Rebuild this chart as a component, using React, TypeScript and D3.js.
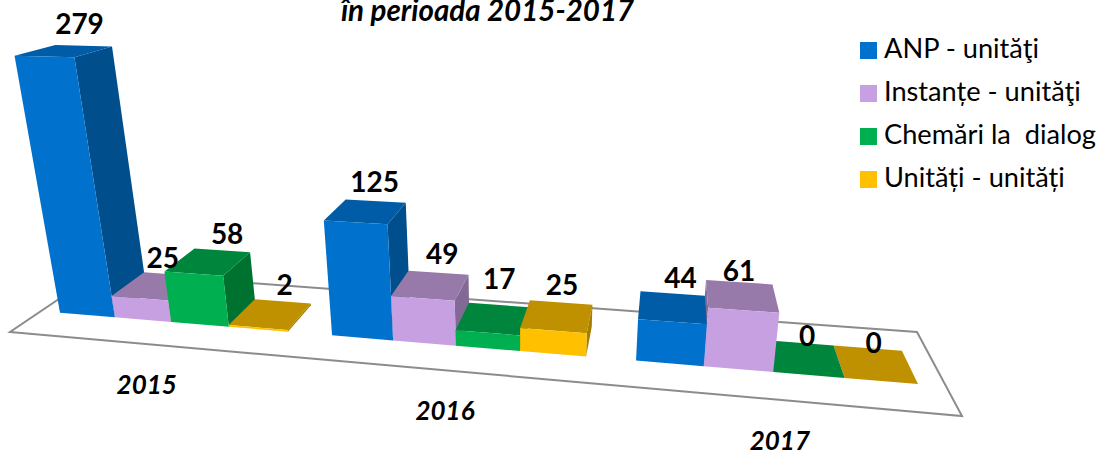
import React from "react";
import * as d3 from "d3";

const years = ["2015", "2016", "2017"];
const seriesNames = ["ANP - unităţi", "Instanțe - unităţi", "Chemări la  dialog", "Unități - unități"];
const anp = [279, 125, 44];
const instante = [25, 49, 61];
const chemari = [58, 17, 0];
const unitati = [2, 25, 0];
const seriesValues = [anp, instante, chemari, unitati];
const frontColors = ["#0072CE", "#C7A0E2", "#00B050", "#FFC000"];
const topColors = ["#005CA6", "#977AAA", "#00863C", "#BF9000"];
const sideColors = ["#004F8C", "#826A94", "#00722F", "#A67D00"];

const WIDTH = 1099;
const HEIGHT = 450;
// Floor quad of the perspective chart and the vanishing point of the vertical direction.
const FL = [10, 332], FR = [962, 416], BR = [917, 332], BL = [99, 272];
const VP = [515, 2885];
const V_FRONT = 0.315, V_BACK = 0.72, U_CAMERA = 0.713;
// Extent of each year's cluster across the floor (0..1).
const groupExtents: [number, number][] = [[0.0253, 0.3108], [0.3629, 0.6453], [0.6975, 0.974]];
// Hand offsets of the value labels from their bars, by series then year.
const labelNudgeX = [[-4, -1, 8], [-8, 4, 0], [5, 0, 7], [2, 1, 6]];
const labelNudgeY = [[-3, 0, 4], [3, 0, 8], [3, -7, 12], [3, 1, 14]];

const dx1 = FR[0] - BR[0], dx2 = BL[0] - BR[0], sx = FL[0] - FR[0] + BR[0] - BL[0];
const dy1 = FR[1] - BR[1], dy2 = BL[1] - BR[1], sy = FL[1] - FR[1] + BR[1] - BL[1];
const den = dx1 * dy2 - dx2 * dy1;
const g = (sx * dy2 - dx2 * sy) / den;
const h = (dx1 * sy - sx * dy1) / den;
const a = FR[0] - FL[0] + g * FR[0], b = BL[0] - FL[0] + h * BL[0], c = FL[0];
const d = FR[1] - FL[1] + g * FR[1], e = BL[1] - FL[1] + h * BL[1], f = FL[1];

const yScale = d3.scaleLinear().domain([0, 1]).range([0, -0.00034]);

function project(u: number, v: number, value: number): [number, number] {
  const s = yScale(value);
  const w = g * u + h * v + 1 + s;
  return [(a * u + b * v + c + s * VP[0]) / w, (d * u + e * v + f + s * VP[1]) / w];
}
const line = d3.line<[number, number]>().curve(d3.curveLinearClosed);

type Bar = { u0: number; u1: number; value: number; series: number; yi: number };
const bars: Bar[] = years.flatMap((_, yi) => {
  const uBar = d3.scaleBand<number>().domain([0, 1, 2, 3]).range(groupExtents[yi]);
  return seriesValues.map((vals, si) => {
    const u0 = uBar(si)!;
    return { u0, u1: u0 + uBar.bandwidth(), value: vals[yi], series: si, yi };
  });
});
const ordered = [...bars].sort(
  (p, q) => Math.abs((q.u0 + q.u1) / 2 - U_CAMERA) - Math.abs((p.u0 + p.u1) / 2 - U_CAMERA)
);

const latin = "Lato, sans-serif";

export default function App() {
  return (
    <svg width={WIDTH} height={HEIGHT} style={{ position: "absolute", left: 0, top: 0, background: "#fff" }}>
      <path
        d={line([project(0, 0, 0), project(1, 0, 0), project(1, 1, 0), project(0, 1, 0)])!}
        fill="#fff"
        stroke="#8C8C8C"
        strokeWidth={2}
      />
      {ordered.map((bar) => {
        const { u0, u1, value, series } = bar;
        return (
          <g key={`${bar.yi}-${series}`}>
            {u1 < U_CAMERA && (
              <path
                d={line([project(u1, V_FRONT, 0), project(u1, V_BACK, 0), project(u1, V_BACK, value), project(u1, V_FRONT, value)])!}
                fill={sideColors[series]}
              />
            )}
            {u0 > U_CAMERA && (
              <path
                d={line([project(u0, V_FRONT, 0), project(u0, V_BACK, 0), project(u0, V_BACK, value), project(u0, V_FRONT, value)])!}
                fill={sideColors[series]}
              />
            )}
            <path
              d={line([project(u0, V_FRONT, value), project(u1, V_FRONT, value), project(u1, V_BACK, value), project(u0, V_BACK, value)])!}
              fill={topColors[series]}
            />
            <path
              d={line([project(u0, V_FRONT, 0), project(u1, V_FRONT, 0), project(u1, V_FRONT, value), project(u0, V_FRONT, value)])!}
              fill={frontColors[series]}
            />
          </g>
        );
      })}
      {bars.map((bar) => {
        const [x, y] = project((bar.u0 + bar.u1) / 2, V_BACK, bar.value);
        return (
          <text
            key={`l${bar.yi}-${bar.series}`}
            x={x + labelNudgeX[bar.series][bar.yi]}
            y={y - 9 + labelNudgeY[bar.series][bar.yi]}
            textAnchor="middle"
            fontFamily={latin}
            fontWeight={700}
            fontSize={28}
            fill="#000"
          >
            {bar.value}
          </text>
        );
      })}
      {years.map((yr, yi) => {
        const [x, y] = project((groupExtents[yi][0] + groupExtents[yi][1]) / 2 + 0.001, 0, 0);
        return (
          <text key={yr} x={x} y={y + 50} textAnchor="middle" fontFamily={latin} fontWeight={700} fontStyle="italic" fontSize={26} fill="#000">
            {yr}
          </text>
        );
      })}
      <text x={487.5} y={21} textAnchor="middle" fontFamily={latin} fontWeight={700} fontStyle="italic" fontSize={29.5} fill="#000">
        în perioada 2015-2017
      </text>
      {seriesNames.map((name, i) => (
        <g key={name} transform={`translate(860,${42 + i * 43})`}>
          <rect width={17} height={17} fill={frontColors[i]} />
          <text x={24} y={16} fontFamily={latin} fontSize={27.2} fill="#000" style={{ whiteSpace: "pre" }}>
            {name}
          </text>
        </g>
      ))}
    </svg>
  );
}
